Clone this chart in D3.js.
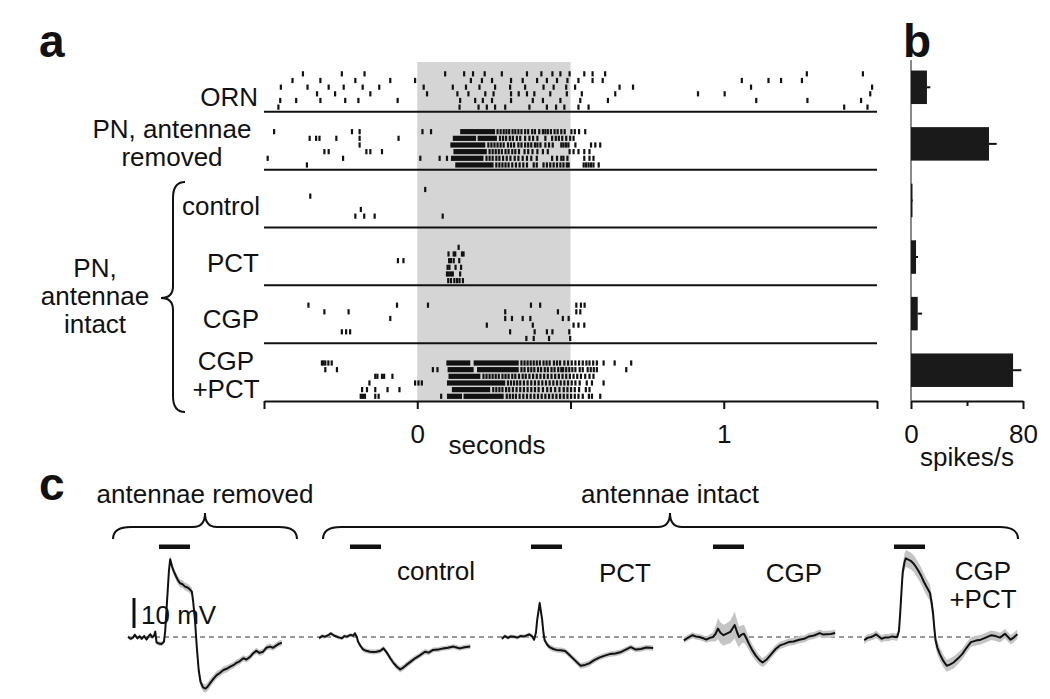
<!DOCTYPE html>
<html lang="en">
<head>
    <meta charset="UTF-8">
    <title>PN responses, antennae removed vs intact</title>
    <script src="https://d3js.org/d3.v7.min.js"></script>
    <style>
        body {
            margin: 0;
            background: #fff;
        }
        svg {
            display: block;
            font-family: "Liberation Sans", Arial, Helvetica, sans-serif;
        }
    </style>
</head>
<body>
<svg id="fig" width="1050" height="699"></svg>
<script>
// ---------- data ----------
// panel a: spike times (ms from odour onset), six trials per condition
const conditions = ["ORN", "PN removed", "control", "PCT", "CGP", "CGP+PCT"]

const spikesORN = [
    [-373, -246, -172, 91, 153, 182, 220, 276, 358, 405, 441, 467, 497, 545, 572, 613, 1271, 1454],
    [-407, -316, -202, -88, -7, 175, 211, 244, 306, 344, 391, 423, 456, 490, 526, 572, 605, 1059, 1146, 1187, 1255],
    [-445, -358, -289, -240, -178, -124, 21, 116, 159, 203, 254, 303, 352, 412, 445, 486, 515, 660, 704, 1089, 1484],
    [-327, -268, -153, 32, 131, 167, 222, 249, 306, 331, 358, 382, 434, 488, 537, 646, 916, 1003, 1478],
    [-447, -395, -316, -235, -192, -64, 140, 189, 214, 244, 306, 377, 410, 467, 532, 622, 1106, 1273, 1448],
    [-453, 138, 200, 227, 254, 287, 366, 423, 453, 480, 526, 559, 1393, 1469]
]
const spikesRemoved = [
    [-467, -213, -188, 17, 45, 262, 272, 282, 291, 300, 311, 320, 330, 340, 352, 362, 375, 384, 398, 410, 418, 426, 436, 448, 458, 470, 481, 503, 514, 528, 548],
    [-351, -330, -319, -264, -188, -61, 270, 280, 290, 302, 312, 325, 336, 352, 366, 378, 392, 418, 440, 452, 462, 473, 486, 499, 510],
    [-188, 232, 242, 252, 262, 272, 282, 296, 306, 316, 330, 340, 352, 362, 372, 384, 392, 402, 418, 430, 442, 470, 477, 485, 493, 516, 567, 581, 597],
    [-303, -289, -166, -153, -115, 236, 246, 256, 266, 276, 288, 298, 310, 320, 332, 350, 362, 376, 392, 410, 426, 497, 510, 526, 545, 562],
    [-488, -242, 10, 73, 97, 226, 236, 246, 258, 268, 280, 292, 304, 318, 330, 344, 358, 372, 390, 440, 456, 470, 477, 490, 545, 562, 575],
    [-360, 258, 268, 278, 288, 298, 310, 322, 334, 346, 358, 380, 390, 412, 423, 434, 445, 456, 467, 477, 488, 494, 543, 551, 559, 567, 575, 592]
]
const spikesControl = [
    [26],
    [-349],
    [],
    [-184],
    [-202, -173, -139, 83],
    []
]
const spikesPCT = [
    [135],
    [102, 119, 124, 146, 151],
    [-63, -45, 104, 110, 119, 137],
    [99, 105, 125, 143],
    [97, 103, 110, 116, 140],
    [101, 110, 121, 130, 138, 149]
]
const spikesCGP = [
    [-355, -66, 35, 371, 401, 519, 534, 546],
    [-303, -224, 287, 459, 519, 532],
    [-88, 287, 309, 344, 369, 475, 494],
    [227, 377, 510, 526, 545],
    [-246, -232, -219, 303, 383, 423, 441, 496],
    [356, 380, 430, 499]
]
const spikesBoth = [
    [-311, -306, -300, -290, -279, 340, 350, 360, 370, 380, 390, 400, 412, 422, 432, 446, 456, 466, 480, 492, 504, 516, 528, 540, 552, 562, 574, 586, 608, 644, 698],
    [-300, -262, 51, 66, 340, 350, 362, 372, 382, 394, 404, 416, 426, 438, 448, 460, 470, 476, 486, 496, 506, 516, 530, 540, 556, 566, 576, 586, 682],
    [-137, -130, -115, -108, -81, 216, 226, 236, 246, 256, 266, 278, 288, 298, 310, 320, 332, 344, 354, 366, 378, 390, 402, 414, 426, 438, 450, 462, 474, 486, 498, 510, 522, 534, 548, 562, 575],
    [-156, -7, 4, 15, 296, 306, 316, 326, 336, 348, 360, 372, 384, 396, 408, 420, 432, 444, 456, 468, 480, 492, 504, 516, 530, 553, 570, 608],
    [-180, -164, -137, -97, -58, 248, 258, 268, 278, 290, 300, 312, 324, 336, 348, 360, 372, 384, 396, 410, 424, 436, 450, 464, 478, 490, 502, 514, 528, 550, 562],
    [-137, -126, 78, 292, 302, 312, 322, 334, 346, 358, 370, 382, 394, 406, 418, 430, 442, 454, 466, 478, 490, 502, 514, 526, 540, 560, 570, 597]
]
// stretches where spikes merge into a solid block [start, end] ms
const burstsORN = [[], [], [], [], [], []]
const burstsRemoved = [[[140, 254]], [[116, 192], [197, 260]], [[108, 222]], [[118, 227]], [[110, 216]], [[124, 249]]]
const burstsControl = [[], [], [], [], [], []]
const burstsPCT = [[], [], [], [], [], []]
const burstsCGP = [[], [], [], [], [], []]
const burstsBoth = [[[95, 173], [184, 331]], [[99, 184], [195, 331]], [[102, 206]], [[97, 287]], [[113, 238]], [[-188, -167], [97, 146], [151, 282]]]

const rasterSpikes = [spikesORN, spikesRemoved, spikesControl, spikesPCT, spikesCGP, spikesBoth]
const rasterBursts = [burstsORN, burstsRemoved, burstsControl, burstsPCT, burstsCGP, burstsBoth]

// panel b: mean firing rate during odour (spikes/s) and error
const rateMean = [11.4, 55.7, 0.8, 3.6, 4.8, 72.9]
const rateErr = [2.4, 5.5, 0.5, 1.4, 3.1, 5.9]

// panel c: membrane potential traces [time s, mV re baseline, sem mV]
const traceNames = ["removed", "control", "PCT", "CGP", "CGP+PCT"]
const traceRemoved = [
    [-0.50, 0.1, 0.6], [-0.46, -0.6, 0.6], [-0.42, -0.2, 0.6], [-0.39, 0.7, 0.6], [-0.35, -0.4, 0.6], [-0.31, 0.2, 0.6],
    [-0.28, -0.6, 0.6], [-0.24, 0.3, 0.6], [-0.20, -0.8, 0.6], [-0.17, 0.2, 0.6], [-0.14, 0.9, 0.6], [-0.11, -0.1, 0.6],
    [-0.08, 0.4, 0.6], [-0.06, 1.8, 0.6], [-0.04, -1.8, 0.6], [0.00, -2.2, 0.7], [0.04, -2.3, 0.7], [0.08, -1.6, 0.7],
    [0.10, 2.0, 0.8], [0.13, 12.0, 1.0], [0.16, 22.0, 1.2], [0.18, 25.9, 1.3], [0.21, 23.5, 1.3], [0.24, 21.8, 1.3],
    [0.28, 20.0, 1.3], [0.31, 18.8, 1.3], [0.34, 17.9, 1.3], [0.38, 17.6, 1.3], [0.42, 16.8, 1.3], [0.46, 16.5, 1.3],
    [0.50, 15.8, 1.3], [0.53, 15.1, 1.3], [0.55, 12.0, 1.3], [0.58, 5.7, 1.3], [0.61, -3.5, 1.3], [0.64, -11.0, 1.4],
    [0.67, -15.0, 1.4], [0.71, -16.8, 1.4], [0.75, -17.2, 1.4], [0.79, -16.4, 1.4], [0.83, -15.2, 1.4], [0.88, -13.9, 1.3],
    [0.93, -12.7, 1.3], [0.98, -12.0, 1.2], [1.04, -11.0, 1.2], [1.09, -10.6, 1.2], [1.15, -9.9, 1.1], [1.20, -9.4, 1.1],
    [1.25, -8.6, 1.1], [1.30, -8.1, 1.1], [1.36, -7.1, 1.0], [1.41, -7.5, 1.0], [1.47, -6.6, 1.0], [1.52, -5.4, 1.0],
    [1.57, -4.6, 1.0], [1.62, -5.3, 1.0], [1.68, -4.9, 1.0], [1.73, -3.6, 1.0], [1.79, -3.2, 1.0], [1.84, -3.6, 1.0],
    [1.90, -2.7, 1.0], [1.94, -2.2, 1.0], [1.98, -1.9, 1.0]
]
const traceControl = [
    [-0.50, -0.4, 0.6], [-0.45, 0.3, 0.6], [-0.40, 0.1, 0.6], [-0.35, 0.6, 0.6], [-0.31, 1.2, 0.6], [-0.26, 0.5, 0.6],
    [-0.21, 0.1, 0.6], [-0.17, -0.2, 0.6], [-0.13, -0.4, 0.6], [-0.09, 0.3, 0.6], [-0.05, 0.1, 0.6], [0.01, 0.7, 0.6],
    [0.05, 0.4, 0.6], [0.08, 1.2, 0.7], [0.11, 0.0, 0.7], [0.13, -1.6, 0.7], [0.17, -3.0, 0.8], [0.21, -4.1, 0.8],
    [0.26, -4.6, 0.8], [0.32, -4.9, 0.8], [0.38, -5.0, 0.8], [0.43, -4.9, 0.8], [0.49, -4.6, 0.8], [0.54, -3.8, 0.8],
    [0.60, -5.4, 0.9], [0.65, -7.1, 0.9], [0.70, -8.6, 0.9], [0.76, -10.0, 1.0], [0.81, -10.8, 1.0], [0.86, -10.2, 1.0],
    [0.91, -9.3, 1.0], [0.98, -8.2, 1.0], [1.05, -7.1, 0.9], [1.12, -6.2, 0.9], [1.21, -4.9, 0.9], [1.27, -5.2, 0.9],
    [1.34, -4.3, 0.8], [1.42, -4.2, 0.8], [1.50, -3.8, 0.8], [1.58, -3.6, 0.8], [1.67, -3.2, 0.8], [1.72, -3.5, 0.8],
    [1.77, -3.8, 0.8], [1.85, -3.4, 0.8], [1.94, -3.2, 0.8]
]
const tracePCT = [
    [-0.47, -0.6, 0.6], [-0.42, 0.3, 0.6], [-0.37, -0.3, 0.6], [-0.33, 0.2, 0.6], [-0.27, 0.1, 0.6], [-0.22, -0.2, 0.6],
    [-0.17, 0.3, 0.6], [-0.11, 0.2, 0.6], [-0.07, 0.5, 0.6], [-0.03, 0.9, 0.6], [0.02, 0.2, 0.7], [0.05, -0.9, 0.7],
    [0.08, 1.5, 0.8], [0.10, 5.7, 1.0], [0.14, 11.3, 1.3], [0.16, 8.5, 1.2], [0.18, 5.7, 1.1], [0.20, 1.5, 1.0],
    [0.22, -1.1, 0.9], [0.26, -2.5, 0.9], [0.30, -3.4, 0.9], [0.36, -4.0, 0.9], [0.41, -4.3, 0.9], [0.48, -4.4, 0.9],
    [0.55, -4.7, 0.9], [0.60, -5.6, 0.9], [0.66, -6.8, 0.9], [0.73, -8.2, 1.0], [0.80, -9.6, 1.0], [0.87, -9.3, 1.0],
    [0.94, -8.8, 1.0], [1.02, -7.7, 1.0], [1.11, -6.8, 0.9], [1.19, -6.2, 0.9], [1.27, -5.7, 0.9], [1.36, -5.5, 0.9],
    [1.44, -5.1, 0.9], [1.52, -4.3, 0.9], [1.61, -3.4, 0.9], [1.69, -4.2, 0.9], [1.77, -4.0, 0.9], [1.86, -3.5, 0.9],
    [1.97, -3.7, 0.9]
]
const traceCGP = [
    [-0.47, -1.1, 1.0], [-0.40, -0.2, 1.0], [-0.33, 0.6, 1.0], [-0.28, 0.2, 1.0], [-0.22, 0.0, 1.0], [-0.16, -0.4, 1.0],
    [-0.11, -0.9, 1.0], [-0.05, -0.3, 1.2], [0.00, 0.0, 1.5], [0.04, 1.0, 2.5], [0.08, 2.8, 3.5], [0.12, 1.4, 3.5],
    [0.17, 0.6, 3.5], [0.22, 1.1, 3.5], [0.28, 1.7, 3.8], [0.32, 3.0, 4.2], [0.35, 4.0, 4.5], [0.39, 1.5, 4.0],
    [0.42, 0.0, 3.5], [0.46, 0.8, 3.0], [0.50, 1.1, 3.0], [0.54, -0.5, 2.5], [0.58, -2.3, 2.2], [0.63, -4.3, 2.0],
    [0.69, -6.2, 1.8], [0.75, -7.7, 1.6], [0.80, -8.5, 1.5], [0.86, -7.6, 1.5], [0.94, -5.7, 1.4], [1.01, -4.0, 1.3],
    [1.08, -2.8, 1.2], [1.15, -2.3, 1.2], [1.22, -1.7, 1.2], [1.30, -1.5, 1.2], [1.39, -0.9, 1.2], [1.47, -0.6, 1.2],
    [1.55, 0.2, 1.2], [1.63, 0.5, 1.2], [1.72, 1.3, 1.2], [1.78, 0.8, 1.2], [1.83, 0.9, 1.2], [1.90, 1.0, 1.2],
    [1.97, 1.3, 1.2]
]
const traceBoth = [
    [-0.48, -1.1, 1.2], [-0.43, -0.3, 1.2], [-0.37, 0.0, 1.2], [-0.33, 0.4, 1.2], [-0.29, 0.9, 1.2], [-0.24, 0.1, 1.2],
    [-0.20, -0.6, 1.2], [-0.15, -0.2, 1.2], [-0.09, -0.2, 1.2], [-0.03, 0.2, 1.2], [0.02, 0.0, 1.2], [0.05, 0.0, 1.3],
    [0.08, 2.0, 1.6], [0.10, 7.9, 2.0], [0.12, 15.0, 2.4], [0.14, 21.5, 2.6], [0.17, 25.0, 2.8], [0.19, 26.2, 2.8],
    [0.23, 25.8, 2.8], [0.27, 25.4, 2.8], [0.31, 24.6, 2.8], [0.35, 23.5, 2.8], [0.40, 21.8, 2.8], [0.44, 20.3, 2.8],
    [0.48, 18.5, 2.8], [0.52, 16.9, 2.8], [0.55, 15.8, 2.8], [0.58, 14.7, 2.8], [0.61, 11.0, 2.8], [0.63, 7.9, 2.8],
    [0.65, 3.0, 2.6], [0.67, -1.1, 2.4], [0.70, -3.6, 2.3], [0.74, -5.7, 2.2], [0.79, -7.8, 2.1], [0.85, -9.6, 2.0],
    [0.90, -9.2, 2.0], [0.96, -8.5, 2.0], [1.03, -7.2, 1.9], [1.10, -5.7, 1.8], [1.17, -3.6, 1.7], [1.24, -1.7, 1.6],
    [1.32, -1.2, 1.6], [1.40, -0.9, 1.6], [1.48, -0.2, 1.6], [1.57, 0.6, 1.6], [1.64, 0.3, 1.6], [1.71, -0.2, 1.6],
    [1.79, 1.1, 1.6], [1.84, 0.0, 1.6], [1.88, -0.9, 1.6], [1.93, -0.2, 1.6], [1.99, 0.9, 1.6]
]
const traces = [traceRemoved, traceControl, tracePCT, traceCGP, traceBoth]
const odourDuration = 0.5 // s

// ---------- drawing ----------
const svg = d3.select("#fig")
const ink = "#111"

// multi-line label as one text element with tspans
function addLabel(lines, x, y, anchor, lineGap) {
    const t = svg.append("text")
        .attr("x", x).attr("y", y)
        .attr("text-anchor", anchor)
        .attr("font-size", 26)
        .attr("fill", ink)
    lines.forEach((s, i) => {
        t.append("tspan")
            .attr("x", x)
            .attr("dy", i === 0 ? 0 : lineGap)
            .text(s)
    })
    return t
}

// 1. panel a scales
const xA = d3.scaleLinear().domain([-500, 1500]).range([264, 877])
const yPanel = d3.scaleBand().domain(conditions).range([54, 401])
const yTrial = d3.scaleLinear().domain([0, 5]).range([-38, -4.7])
const panelBottom = c => yPanel(c) + yPanel.bandwidth()

// odour period shading
svg.append("rect")
    .attr("x", xA(0))
    .attr("width", xA(odourDuration * 1000) - xA(0))
    .attr("y", 62)
    .attr("height", panelBottom("CGP+PCT") - 62)
    .attr("fill", "#d5d5d5")

// 2. raster ticks and bursts
const raster = svg.append("g")
conditions.forEach((c, ci) => {
    const base = panelBottom(c)
    rasterSpikes[ci].forEach((trial, ti) => {
        raster.selectAll(null)
            .data(trial)
            .join("rect")
                .attr("x", d => xA(d) - 1.1)
                .attr("width", 2.2)
                .attr("y", base + yTrial(ti) - 2.6)
                .attr("height", 5.2)
                .attr("fill", ink)
    })
    rasterBursts[ci].forEach((trial, ti) => {
        raster.selectAll(null)
            .data(trial)
            .join("rect")
                .attr("x", d => xA(d[0]))
                .attr("width", d => xA(d[1]) - xA(d[0]))
                .attr("y", base + yTrial(ti) - 2.6)
                .attr("height", 5.2)
                .attr("fill", ink)
    })
    if (ci < conditions.length - 1) {
        svg.append("line")
            .attr("x1", xA(-500)).attr("x2", xA(1500))
            .attr("y1", base).attr("y2", base)
            .attr("stroke", ink)
            .attr("stroke-width", 2)
    }
})

// 3. time axis
const xAxisA = svg.append("g")
    .attr("transform", `translate(0,${panelBottom("CGP+PCT")})`)
    .call(d3.axisBottom(xA)
        .tickValues([-500, 0, 500, 1000, 1500])
        .tickSize(8)
        .tickSizeOuter(0)
        .tickPadding(16)
        .tickFormat(d => d === 0 ? "0" : d === 1000 ? "1" : ""))
xAxisA.selectAll("path, line").attr("stroke", ink).attr("stroke-width", 2)
xAxisA.selectAll("text").attr("font-size", 26).attr("fill", ink).attr("font-family", null)

addLabel(["seconds"], 497, 454, "middle", 0)

// 4. row labels
addLabel(["ORN"], 258, 106, "end", 0)
addLabel(["PN, antennae", "removed"], 172, 138, "middle", 28)
addLabel(["control"], 260, 215, "end", 0)
addLabel(["PCT"], 259, 272, "end", 0)
addLabel(["CGP"], 259, 328, "end", 0)
addLabel(["CGP", "+PCT"], 226, 370, "middle", 28)
addLabel(["PN,", "antennae", "intact"], 95, 277, "middle", 28)

// vertical brace grouping the intact-antenna rows
const vx = 173, vTop = 182, vTip = 298, vBot = 412
svg.append("path")
    .attr("d", `M${vx + 12},${vTop} Q${vx},${vTop} ${vx},${vTop + 16} L${vx},${vTip - 12} Q${vx},${vTip} ${vx - 12},${vTip}
                Q${vx},${vTip} ${vx},${vTip + 12} L${vx},${vBot - 16} Q${vx},${vBot} ${vx + 12},${vBot}`)
    .attr("fill", "none")
    .attr("stroke", ink)
    .attr("stroke-width", 2)

// 5. panel b bars
const xB = d3.scaleLinear().domain([0, 80]).range([911, 1023])
const yB = d3.scaleBand().domain(conditions).range([59, 398.5])
const barH = 33.5

svg.append("line")
    .attr("x1", xB(0)).attr("x2", xB(0))
    .attr("y1", 60).attr("y2", 401)
    .attr("stroke", "#8a8a8a")
    .attr("stroke-width", 2)

svg.selectAll(".errbar")
    .data(conditions)
    .join("line")
        .attr("class", "errbar")
        .attr("x1", (d, i) => xB(rateMean[i]))
        .attr("x2", (d, i) => xB(rateMean[i] + rateErr[i]))
        .attr("y1", d => yB(d) + yB.bandwidth() / 2)
        .attr("y2", d => yB(d) + yB.bandwidth() / 2)
        .attr("stroke", ink)
        .attr("stroke-width", 2)

svg.selectAll(".bar")
    .data(conditions)
    .join("rect")
        .attr("class", "bar")
        .attr("x", xB(0))
        .attr("width", (d, i) => Math.max(1.5, xB(rateMean[i]) - xB(0)))
        .attr("y", d => yB(d) + yB.bandwidth() / 2 - barH / 2)
        .attr("height", barH)
        .attr("fill", "#1a1a1a")

const xAxisB = svg.append("g")
    .attr("transform", "translate(0,401)")
    .call(d3.axisBottom(xB)
        .tickValues([0, 40, 80])
        .tickSize(8)
        .tickSizeOuter(0)
        .tickPadding(16)
        .tickFormat(d => d === 40 ? "" : d))
xAxisB.selectAll("path, line").attr("stroke", ink).attr("stroke-width", 2)
xAxisB.selectAll(".tick line").filter(d => d === 40).attr("y2", 5)
xAxisB.selectAll("text").attr("font-size", 26).attr("fill", ink).attr("font-family", null)

addLabel(["spikes/s"], 967, 466, "middle", 0)

// 6. panel c traces
const traceOnset = d3.scaleOrdinal().domain(traceNames).range([159, 350, 531, 713, 894])
const pxPerSecond = 62
const yC = d3.scaleLinear().domain([0, 10]).range([637, 607])

// dashed resting level
svg.append("line")
    .attr("x1", 128).attr("x2", 1018)
    .attr("y1", yC(0)).attr("y2", yC(0))
    .attr("stroke", "#7a7a7a")
    .attr("stroke-width", 1.6)
    .attr("stroke-dasharray", "5,4")

traceNames.forEach((name, i) => {
    const xT = d3.scaleLinear().domain([0, 1]).range([traceOnset(name), traceOnset(name) + pxPerSecond])
    const band = d3.area()
        .x(d => xT(d[0]))
        .y0(d => yC(d[1] - d[2]))
        .y1(d => yC(d[1] + d[2]))
    const line = d3.line()
        .x(d => xT(d[0]))
        .y(d => yC(d[1]))

    svg.append("path")
        .attr("d", band(traces[i]))
        .attr("fill", "#c4c4c4")
    svg.append("path")
        .attr("d", line(traces[i]))
        .attr("fill", "none")
        .attr("stroke", ink)
        .attr("stroke-width", 2)
        .attr("stroke-linejoin", "round")

    // odour bar
    svg.append("rect")
        .attr("x", xT(0))
        .attr("width", xT(odourDuration) - xT(0))
        .attr("y", 544.5)
        .attr("height", 4.5)
        .attr("fill", ink)
})

// trace labels
addLabel(["control"], 436, 580, "middle", 0)
addLabel(["PCT"], 625, 582, "middle", 0)
addLabel(["CGP"], 794, 582, "middle", 0)
addLabel(["CGP", "+PCT"], 983, 580, "middle", 28)

// scale bar 10 mV
svg.append("line")
    .attr("x1", 134).attr("x2", 134)
    .attr("y1", 628).attr("y2", 628 - (yC(0) - yC(10)))
    .attr("stroke", ink)
    .attr("stroke-width", 3)
addLabel(["10 mV"], 141, 624, "start", 0)

// group braces
function hBrace(x1, x2, xm, yEnd, yTip) {
    const yMid = yEnd - 12
    return `M${x1},${yEnd} Q${x1},${yMid} ${x1 + 18},${yMid} L${xm - 12},${yMid} Q${xm},${yMid} ${xm},${yTip}
            Q${xm},${yMid} ${xm + 12},${yMid} L${x2 - 18},${yMid} Q${x2},${yMid} ${x2},${yEnd}`
}
const groups = [
    {text: "antennae removed", x1: 113, x2: 297, xm: 205},
    {text: "antennae intact", x1: 323, x2: 1018, xm: 670}
]
groups.forEach(g => {
    svg.append("path")
        .attr("d", hBrace(g.x1, g.x2, g.xm, 539, 513))
        .attr("fill", "none")
        .attr("stroke", ink)
        .attr("stroke-width", 2)
    addLabel([g.text], g.xm, 503, "middle", 0)
})

// 7. panel letters
const letters = [{t: "a", x: 39, y: 57}, {t: "b", x: 903, y: 57}, {t: "c", x: 39, y: 500}]
svg.selectAll(".letter")
    .data(letters)
    .join("text")
        .attr("class", "letter")
        .attr("x", d => d.x).attr("y", d => d.y)
        .attr("font-size", 46)
        .attr("font-weight", "bold")
        .attr("fill", ink)
        .text(d => d.t)
</script>
</body>
</html>
